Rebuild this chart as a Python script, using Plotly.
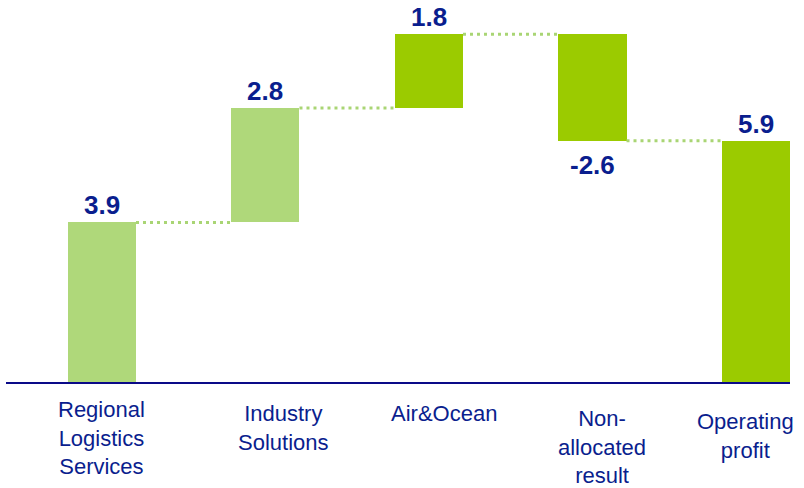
import plotly.graph_objects as go

# Operating profit bridge by segment
categories = ["Regional<br>Logistics<br>Services", "Industry<br>Solutions", "Air&Ocean",
              "Non-<br>allocated<br>result", "Operating<br>profit"]
values = [3.9, 2.8, 1.8, -2.6, 5.9]
measures = ["relative", "relative", "relative", "relative", "total"]
value_labels = ["3.9", "2.8", "1.8", "-2.6", "5.9"]

# styling
LIGHT = "#AFD87A"
BRIGHT = "#9BCB00"
NAVY = "#0A1E8E"
AXIS = "#0A0A88"
bar_colors = [LIGHT, LIGHT, BRIGHT, BRIGHT, BRIGHT]
bar_width = 0.416
label_xshift = [0, 18, 15, 10, -10]
label_yshift = [-13, -17, -17, -22, -25]
FONT = "Liberation Sans, Arial, sans-serif"

# floating bar bases from the running total
bases, heights, levels = [], [], []
running = 0.0
for v, m in zip(values, measures):
    if m == "total":
        bases.append(0.0)
        heights.append(v)
        running = v
    else:
        bases.append(running)
        heights.append(v)
        running += v
    levels.append(running)

x = list(range(len(values)))

fig = go.Figure()
fig.add_trace(go.Bar(
    x=x, y=heights, base=bases, width=bar_width,
    marker=dict(color=bar_colors, line=dict(width=0)),
    hoverinfo="skip", showlegend=False,
))

# dotted connectors between neighbouring bars
for i in range(len(values) - 1):
    fig.add_trace(go.Scatter(
        x=[i + bar_width / 2, i + 1 - bar_width / 2],
        y=[levels[i], levels[i]],
        mode="lines",
        line=dict(color="#A9D574", width=3, dash="3px,4px"),
        hoverinfo="skip", showlegend=False,
    ))

annotations = []
# value labels above (or below) each bar
for i, (b, h, txt) in enumerate(zip(bases, heights, value_labels)):
    end = b + h
    if h >= 0:
        annotations.append(dict(x=i, y=end, xref="x", yref="y", text=txt,
                                showarrow=False, yanchor="bottom",
                                font=dict(family=FONT, size=26, color=NAVY, weight="bold")))
    else:
        annotations.append(dict(x=i, y=end, xref="x", yref="y", text=txt,
                                showarrow=False, yanchor="top", yshift=-7,
                                font=dict(family=FONT, size=26, color=NAVY, weight="bold")))

# category labels under the axis line
for i, cat in enumerate(categories):
    annotations.append(dict(x=i, y=0, xref="x", yref="y", text=cat,
                            showarrow=False, yanchor="top", align="center",
                            xshift=label_xshift[i], yshift=label_yshift[i],
                            font=dict(family=FONT, size=22, color=NAVY)))

fig.update_layout(
    width=804, height=488,
    margin=dict(l=6, r=14, t=0, b=106),
    paper_bgcolor="white", plot_bgcolor="white",
    bargap=0,
    annotations=annotations,
    xaxis=dict(range=[-0.587, 4.208], showticklabels=False, showgrid=False,
               zeroline=False, showline=True, linecolor=AXIS, linewidth=2,
               ticks="", fixedrange=True),
    yaxis=dict(range=[0, 9.34], visible=False, showgrid=False, zeroline=False,
               fixedrange=True),
)

fig.write_html("out.html")
